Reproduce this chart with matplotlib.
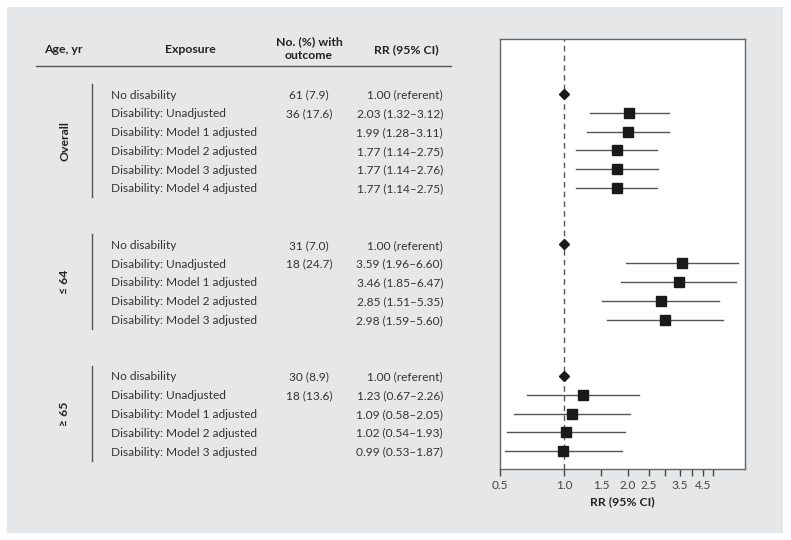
import numpy as np
import matplotlib.pyplot as plt
from matplotlib.patches import Rectangle
from matplotlib.ticker import FixedLocator, FixedFormatter, NullLocator

plt.rcParams['font.family'] = ['Lato', 'DejaVu Sans']

# ---- data ----
groups = ['Overall', '\u2264 64', '\u2265 65']
exposures = [
    ['No disability', 'Disability: Unadjusted', 'Disability: Model 1 adjusted',
     'Disability: Model 2 adjusted', 'Disability: Model 3 adjusted', 'Disability: Model 4 adjusted'],
    ['No disability', 'Disability: Unadjusted', 'Disability: Model 1 adjusted',
     'Disability: Model 2 adjusted', 'Disability: Model 3 adjusted'],
    ['No disability', 'Disability: Unadjusted', 'Disability: Model 1 adjusted',
     'Disability: Model 2 adjusted', 'Disability: Model 3 adjusted'],
]
counts = [
    ['61 (7.9)', '36 (17.6)', '', '', '', ''],
    ['31 (7.0)', '18 (24.7)', '', '', ''],
    ['30 (8.9)', '18 (13.6)', '', '', ''],
]
rr = [
    [1.00, 2.03, 1.99, 1.77, 1.77, 1.77],
    [1.00, 3.59, 3.46, 2.85, 2.98],
    [1.00, 1.23, 1.09, 1.02, 0.99],
]
lo = [
    [np.nan, 1.32, 1.28, 1.14, 1.14, 1.14],
    [np.nan, 1.96, 1.85, 1.51, 1.59],
    [np.nan, 0.67, 0.58, 0.54, 0.53],
]
hi = [
    [np.nan, 3.12, 3.11, 2.75, 2.76, 2.75],
    [np.nan, 6.60, 6.47, 5.35, 5.60],
    [np.nan, 2.26, 2.05, 1.93, 1.87],
]
xticks = [0.5, 1.0, 1.5, 2.0, 2.5, 3.0, 3.5, 4.0, 4.5, 5.0]
xticklabels = ['0.5', '1.0', '1.5', '2.0', '2.5', '', '3.5', '', '4.5', '']

W, H = 791, 540
fig = plt.figure(figsize=(W / 100, H / 100), dpi=100)
fig.patch.set_facecolor('white')
fig.add_artist(Rectangle((7 / W, 1 - 533 / H), 776 / W, 526 / H,
                         transform=fig.transFigure, facecolor='#e6e7e8',
                         edgecolor='none', zorder=-10))

def box(x0, y0, x1, y1):
    return [x0 / W, 1 - y1 / H, (x1 - x0) / W, (y1 - y0) / H]

# row positions: groups separated by 2 empty rows
rows = []
start = 0
for g in exposures:
    rows.append(list(range(start, start + len(g))))
    start += len(g) + 2
ylim = (19.95, -2.93)

# ---- forest axes ----
ax = fig.add_axes(box(500, 39, 745, 469))
ax.set_facecolor('white')
ax.set_xscale('log')
ax.set_xlim(0.5, 7.1)
ax.set_ylim(*ylim)
ax.axvline(1.0, color='#555555', ls=(0, (4, 3)), lw=1, zorder=1)
for gi in range(len(groups)):
    for r, v, l, h in zip(rows[gi], rr[gi], lo[gi], hi[gi]):
        if np.isnan(l):
            ax.plot(v, r, marker='D', color='#1a1a1a', ms=5, zorder=3)
        else:
            ax.plot([l, h], [r, r], color='#555555', lw=1, zorder=2)
            ax.plot(v, r, marker='s', color='#1a1a1a', ms=6.5, zorder=3)
ax.xaxis.set_major_locator(FixedLocator(xticks))
ax.xaxis.set_major_formatter(FixedFormatter(xticklabels))
ax.xaxis.set_minor_locator(NullLocator())
ax.set_yticks([])
ax.tick_params(axis='x', length=5, width=1, color='#444444', labelsize=8.5,
               labelcolor='#444444', pad=3)
for s in ax.spines.values():
    s.set_color('#666666')
    s.set_linewidth(1)
ax.set_xlabel('RR (95% CI)', fontsize=8.8, fontweight='bold', color='#222222', labelpad=4)

# ---- table axes ----
tx = fig.add_axes(box(7, 39, 460, 469))
tx.set_xlim(7, 460)
tx.set_ylim(*ylim)
tx.axis('off')
fs = 8.6
hdr = dict(fontsize=8.8, fontweight='bold', color='#222222', va='center', ha='center')
tx.text(63, -2.35, 'Age, yr', **hdr)
tx.text(190, -2.35, 'Exposure', **hdr)
tx.text(309, -2.4, 'No. (%) with\noutcome', linespacing=1.3, **hdr)
tx.text(406, -2.35, 'RR (95% CI)', **hdr)
tx.plot([36, 451], [-1.5, -1.5], color='#555555', lw=1, clip_on=False)

for gi, g in enumerate(groups):
    r = rows[gi]
    tx.plot([92, 92], [r[0] - 0.55, r[-1] + 0.5], color='#555555', lw=1)
    tx.text(65, (r[0] + r[-1]) / 2, g, rotation=90, ha='center', va='center',
            fontsize=8.8, fontweight='bold', color='#222222')
    for ri, name, c, v, l, h in zip(r, exposures[gi], counts[gi], rr[gi], lo[gi], hi[gi]):
        tx.text(111, ri + 0.05, name, ha='left', va='center', fontsize=fs, color='#333333')
        if c:
            tx.text(309, ri + 0.05, c, ha='center', va='center', fontsize=fs, color='#333333')
        if np.isnan(l):
            s = f'{v:.2f} (referent)'
        else:
            s = f'{v:.2f} ({l:.2f}\u2013{h:.2f})'
        tx.text(443, ri + 0.05, s, ha='right', va='center', fontsize=fs, color='#333333')

fig.savefig('out.png', dpi=100, facecolor='white')
